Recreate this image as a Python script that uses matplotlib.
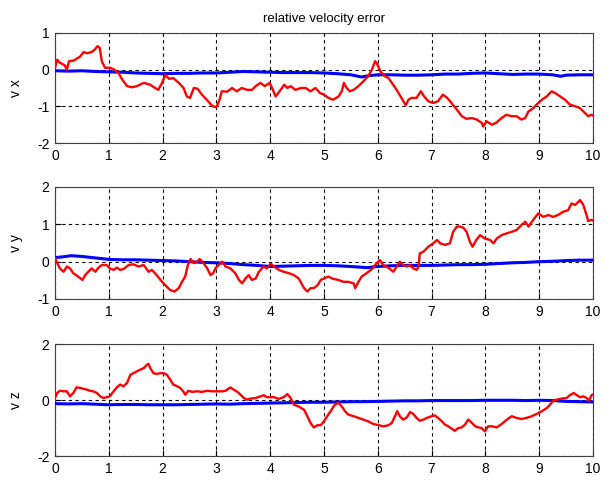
import matplotlib
matplotlib.use("Agg")
import matplotlib.pyplot as plt

plt.rcParams['font.family'] = ['Liberation Sans', 'DejaVu Sans']
plt.rcParams['axes.unicode_minus'] = False

title = "relative velocity error"
ylabels = ["v x", "v y", "v z"]
xticks = list(range(0, 11))
yticks_list = [[-2, -1, 0, 1], [-1, 0, 1, 2], [-2, 0, 2]]
ylims = [(-2, 1), (-1, 2), (-2, 2)]

vx_red = [(0,0.05),(0.04,0.27),(0.08,0.2),(0.13,0.16),(0.18,0.12),(0.22,0.0),(0.26,0.23),(0.35,0.25),(0.47,0.36),(0.53,0.48),(0.6,0.45),(0.68,0.48),(0.74,0.55),(0.79,0.64),(0.83,0.6),(0.87,0.23),(0.93,0.05),(1.03,0.05),(1.1,0.0),(1.18,-0.09),(1.25,-0.27),(1.34,-0.45),(1.43,-0.48),(1.52,-0.45),(1.65,-0.36),(1.77,-0.41),(1.86,-0.5),(1.92,-0.55),(1.99,-0.36),(2.05,-0.14),(2.12,-0.25),(2.2,-0.23),(2.3,-0.36),(2.39,-0.5),(2.45,-0.73),(2.51,-0.77),(2.58,-0.5),(2.65,-0.52),(2.73,-0.68),(2.82,-0.82),(2.93,-1.0),(3.0,-1.02),(3.05,-0.86),(3.1,-0.59),(3.2,-0.6),(3.29,-0.5),(3.38,-0.59),(3.47,-0.5),(3.57,-0.55),(3.66,-0.55),(3.73,-0.45),(3.82,-0.36),(3.9,-0.45),(3.99,-0.36),(4.05,-0.55),(4.1,-0.73),(4.17,-0.6),(4.26,-0.41),(4.32,-0.5),(4.38,-0.45),(4.47,-0.55),(4.57,-0.5),(4.66,-0.5),(4.75,-0.59),(4.84,-0.5),(4.93,-0.64),(5.0,-0.68),(5.08,-0.77),(5.17,-0.82),(5.27,-0.73),(5.33,-0.59),(5.37,-0.36),(5.42,-0.5),(5.48,-0.59),(5.55,-0.55),(5.64,-0.45),(5.73,-0.32),(5.82,-0.18),(5.89,0.0),(5.95,0.23),(5.98,0.18),(6.05,-0.05),(6.13,-0.18),(6.2,-0.23),(6.26,-0.36),(6.35,-0.55),(6.44,-0.77),(6.52,-0.97),(6.57,-0.82),(6.63,-0.77),(6.72,-0.77),(6.8,-0.59),(6.86,-0.73),(6.94,-0.86),(7.03,-0.91),(7.12,-0.86),(7.21,-0.68),(7.29,-0.77),(7.37,-0.91),(7.47,-1.09),(7.56,-1.27),(7.65,-1.34),(7.75,-1.32),(7.84,-1.36),(7.93,-1.45),(7.96,-1.55),(8.02,-1.41),(8.12,-1.5),(8.2,-1.45),(8.3,-1.32),(8.39,-1.23),(8.49,-1.27),(8.58,-1.27),(8.67,-1.36),(8.74,-1.32),(8.8,-1.14),(8.89,-1.05),(8.98,-0.91),(9.05,-0.82),(9.14,-0.73),(9.23,-0.59),(9.3,-0.64),(9.39,-0.73),(9.48,-0.82),(9.57,-0.95),(9.67,-1.0),(9.76,-1.05),(9.85,-1.18),(9.91,-1.27),(9.97,-1.23),(10.0,-1.25)]

vx_blue = [(0,-0.03),(0.25,-0.04),(0.5,-0.03),(0.75,-0.05),(1.0,-0.06),(1.25,-0.07),(1.5,-0.09),(1.75,-0.1),(2.0,-0.11),(2.25,-0.1),(2.5,-0.1),(2.75,-0.09),(3.0,-0.09),(3.25,-0.07),(3.5,-0.05),(3.75,-0.06),(4.0,-0.07),(4.25,-0.08),(4.5,-0.08),(4.75,-0.08),(5.0,-0.09),(5.25,-0.11),(5.5,-0.14),(5.7,-0.2),(5.85,-0.16),(6.0,-0.14),(6.25,-0.14),(6.5,-0.15),(6.75,-0.15),(7.0,-0.14),(7.25,-0.12),(7.5,-0.12),(7.75,-0.1),(8.0,-0.09),(8.25,-0.11),(8.5,-0.13),(8.75,-0.12),(9.0,-0.12),(9.25,-0.14),(9.4,-0.18),(9.5,-0.15),(9.75,-0.14),(10.0,-0.14)]

vy_red = [(0,0.09),(0.03,0.0),(0.09,-0.18),(0.16,-0.27),(0.22,-0.13),(0.28,-0.18),(0.34,-0.31),(0.43,-0.4),(0.51,-0.49),(0.56,-0.36),(0.62,-0.27),(0.68,-0.18),(0.75,-0.27),(0.81,-0.16),(0.87,-0.09),(0.96,-0.09),(1.02,-0.18),(1.09,-0.22),(1.15,-0.16),(1.21,-0.22),(1.27,-0.2),(1.37,-0.09),(1.46,-0.07),(1.55,-0.13),(1.65,-0.09),(1.74,-0.27),(1.8,-0.22),(1.89,-0.36),(1.99,-0.54),(2.08,-0.67),(2.14,-0.76),(2.22,-0.8),(2.3,-0.71),(2.36,-0.54),(2.42,-0.4),(2.47,-0.09),(2.52,0.07),(2.58,-0.04),(2.64,0.0),(2.69,0.07),(2.76,-0.04),(2.83,-0.18),(2.89,-0.36),(2.94,-0.31),(2.98,-0.18),(3.04,-0.09),(3.11,0.0),(3.17,-0.13),(3.26,-0.18),(3.35,-0.31),(3.42,-0.49),(3.48,-0.58),(3.54,-0.45),(3.6,-0.36),(3.66,-0.49),(3.73,-0.45),(3.79,-0.27),(3.88,-0.13),(3.94,-0.18),(4.01,-0.05),(4.07,-0.13),(4.16,-0.22),(4.25,-0.27),(4.35,-0.31),(4.44,-0.36),(4.53,-0.45),(4.63,-0.71),(4.69,-0.8),(4.75,-0.71),(4.81,-0.71),(4.88,-0.63),(4.94,-0.49),(5.0,-0.45),(5.08,-0.4),(5.17,-0.46),(5.27,-0.49),(5.36,-0.54),(5.45,-0.54),(5.55,-0.58),(5.58,-0.71),(5.64,-0.54),(5.7,-0.4),(5.79,-0.31),(5.89,-0.2),(5.98,-0.04),(6.04,0.04),(6.1,-0.09),(6.16,-0.13),(6.23,-0.2),(6.29,-0.27),(6.35,-0.13),(6.41,0.0),(6.47,-0.09),(6.54,-0.13),(6.6,-0.09),(6.66,-0.18),(6.72,-0.22),(6.76,-0.13),(6.78,0.22),(6.85,0.27),(6.94,0.4),(7.03,0.49),(7.1,0.58),(7.16,0.49),(7.25,0.45),(7.34,0.49),(7.4,0.8),(7.47,0.94),(7.53,0.94),(7.59,0.91),(7.65,0.8),(7.71,0.54),(7.76,0.4),(7.83,0.58),(7.9,0.71),(7.99,0.62),(8.09,0.58),(8.15,0.49),(8.21,0.62),(8.3,0.71),(8.4,0.76),(8.49,0.8),(8.58,0.85),(8.67,0.98),(8.74,1.07),(8.8,0.94),(8.89,1.12),(8.98,1.29),(9.08,1.2),(9.17,1.25),(9.26,1.2),(9.35,1.25),(9.45,1.34),(9.54,1.38),(9.6,1.56),(9.67,1.52),(9.76,1.65),(9.82,1.52),(9.88,1.25),(9.91,1.09),(9.97,1.12),(10.0,1.1)]

vy_blue = [(0,0.11),(0.15,0.13),(0.3,0.16),(0.5,0.14),(0.75,0.1),(1.0,0.06),(1.25,0.05),(1.5,0.05),(1.75,0.04),(2.0,0.03),(2.25,0.02),(2.5,0.0),(2.75,-0.02),(3.0,-0.03),(3.25,-0.05),(3.5,-0.08),(3.75,-0.1),(4.0,-0.13),(4.25,-0.12),(4.5,-0.11),(4.75,-0.1),(5.0,-0.1),(5.25,-0.11),(5.5,-0.13),(5.8,-0.16),(6.0,-0.13),(6.25,-0.11),(6.5,-0.1),(6.75,-0.1),(7.0,-0.1),(7.25,-0.09),(7.5,-0.08),(7.75,-0.08),(8.0,-0.07),(8.25,-0.05),(8.5,-0.03),(8.75,-0.02),(9.0,0.0),(9.25,0.01),(9.5,0.03),(9.75,0.04),(10.0,0.04)]

vz_red = [(0,0.07),(0.04,0.25),(0.09,0.33),(0.16,0.31),(0.22,0.31),(0.28,0.13),(0.34,0.25),(0.4,0.45),(0.47,0.43),(0.53,0.4),(0.59,0.37),(0.65,0.33),(0.71,0.31),(0.78,0.25),(0.84,0.13),(0.9,0.07),(0.96,0.1),(1.02,0.13),(1.09,0.31),(1.15,0.45),(1.21,0.55),(1.27,0.49),(1.34,0.61),(1.4,0.9),(1.46,0.96),(1.52,1.02),(1.58,1.08),(1.65,1.14),(1.71,1.26),(1.74,1.29),(1.77,1.14),(1.83,0.96),(1.89,0.93),(1.96,0.96),(2.02,0.96),(2.08,0.9),(2.14,0.73),(2.2,0.55),(2.27,0.49),(2.33,0.43),(2.39,0.29),(2.42,0.19),(2.48,0.33),(2.55,0.29),(2.64,0.31),(2.73,0.29),(2.83,0.33),(2.92,0.31),(3.01,0.31),(3.11,0.31),(3.17,0.33),(3.26,0.45),(3.32,0.37),(3.39,0.29),(3.45,0.19),(3.51,0.07),(3.57,0.01),(3.63,0.05),(3.73,0.07),(3.82,0.13),(3.88,0.17),(3.94,0.1),(4.01,0.1),(4.07,0.1),(4.16,0.04),(4.25,0.1),(4.32,0.21),(4.38,0.07),(4.44,-0.17),(4.53,-0.23),(4.63,-0.35),(4.69,-0.58),(4.75,-0.82),(4.81,-0.98),(4.88,-0.9),(4.94,-0.9),(5.0,-0.76),(5.08,-0.52),(5.14,-0.35),(5.2,-0.17),(5.27,-0.1),(5.33,-0.23),(5.39,-0.4),(5.45,-0.52),(5.55,-0.58),(5.64,-0.64),(5.73,-0.7),(5.82,-0.76),(5.92,-0.86),(6.02,-0.9),(6.1,-0.94),(6.2,-0.9),(6.26,-0.82),(6.32,-0.58),(6.36,-0.4),(6.41,-0.58),(6.47,-0.7),(6.54,-0.62),(6.6,-0.43),(6.66,-0.5),(6.72,-0.64),(6.78,-0.74),(6.85,-0.7),(6.91,-0.64),(7.0,-0.58),(7.06,-0.55),(7.12,-0.64),(7.19,-0.76),(7.25,-0.88),(7.31,-0.94),(7.37,-1.02),(7.43,-1.1),(7.5,-1.0),(7.56,-0.98),(7.62,-0.88),(7.68,-0.7),(7.75,-0.82),(7.81,-0.94),(7.87,-0.98),(7.93,-1.0),(7.99,-1.12),(8.05,-0.94),(8.12,-0.94),(8.21,-0.98),(8.3,-0.86),(8.4,-0.7),(8.49,-0.58),(8.58,-0.64),(8.67,-0.68),(8.76,-0.64),(8.86,-0.58),(8.95,-0.5),(9.05,-0.4),(9.14,-0.29),(9.2,-0.17),(9.26,-0.02),(9.32,0.01),(9.42,0.05),(9.51,0.07),(9.57,0.17),(9.64,0.25),(9.7,0.17),(9.76,0.1),(9.82,0.13),(9.88,0.07),(9.93,-0.02),(9.97,0.17),(10.0,0.2)]

vz_blue = [(0,-0.13),(0.25,-0.14),(0.5,-0.13),(0.75,-0.15),(1.0,-0.17),(1.25,-0.16),(1.5,-0.16),(1.75,-0.17),(2.0,-0.17),(2.25,-0.17),(2.5,-0.16),(2.75,-0.15),(3.0,-0.14),(3.25,-0.15),(3.5,-0.13),(3.75,-0.12),(4.0,-0.11),(4.25,-0.1),(4.5,-0.09),(4.75,-0.08),(5.0,-0.08),(5.25,-0.07),(5.5,-0.06),(5.75,-0.06),(6.0,-0.05),(6.25,-0.04),(6.5,-0.03),(6.75,-0.03),(7.0,-0.02),(7.25,-0.02),(7.5,-0.02),(7.75,-0.02),(8.0,-0.01),(8.25,-0.01),(8.5,-0.01),(8.75,-0.02),(9.0,-0.01),(9.25,-0.02),(9.5,-0.05),(9.75,-0.06),(10.0,-0.07)]

red_series = [vx_red, vy_red, vz_red]
blue_series = [vx_blue, vy_blue, vz_blue]

fig = plt.figure(figsize=(6.12, 4.83), dpi=100)
W, H = 612.0, 483.0
boxes = [(55, 33, 593, 143), (55, 187, 593, 299), (55, 344, 593, 456)]

for i in range(3):
    l, t, r, b = boxes[i]
    ax = fig.add_axes([l / W, 1 - b / H, (r - l) / W, (b - t) / H])
    bt, bv = zip(*blue_series[i])
    rt, rv = zip(*red_series[i])
    ax.plot(bt, bv, color='#0000ff', lw=2.2, zorder=3)
    ax.plot(rt, rv, color='#ff0000', lw=1.7, zorder=4)
    ax.set_xlim(0, 10)
    ax.set_ylim(*ylims[i])
    ax.set_xticks(xticks)
    ax.set_yticks(yticks_list[i])
    ax.grid(True, color='black', linestyle=(0, (3, 3)), linewidth=0.8)
    ax.tick_params(direction='in', length=4, labelsize=10, colors='black', pad=4)
    for s in ax.spines.values():
        s.set_color('#404040')
        s.set_linewidth(0.8)
    ax.set_ylabel(ylabels[i], fontsize=10, labelpad=10)
    if i == 0:
        ax.set_title(title, fontsize=9.5, pad=8)

fig.savefig("out.png", dpi=100)
